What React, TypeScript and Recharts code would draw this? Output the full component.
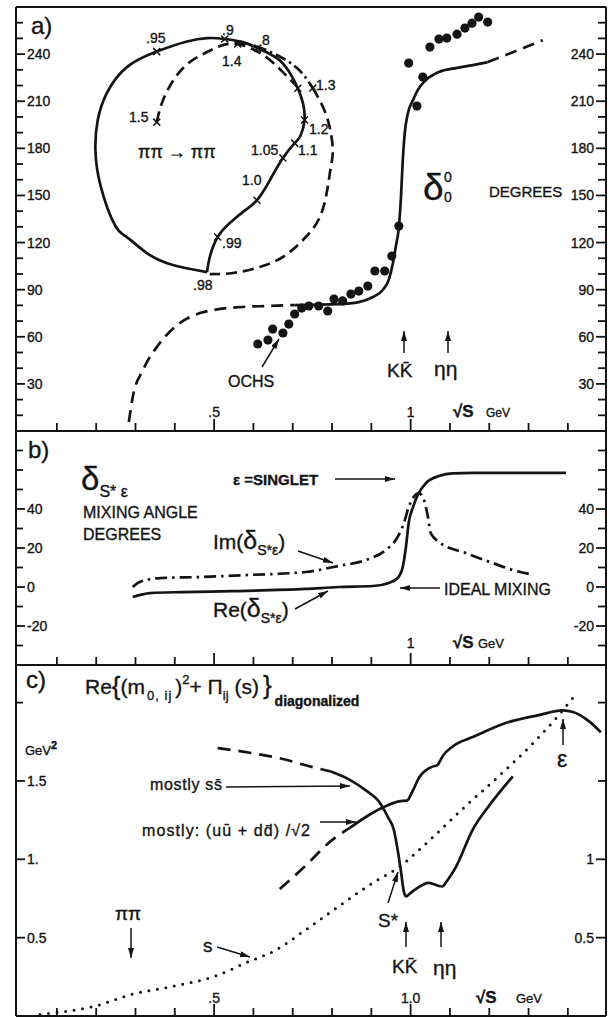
import React from 'react';
import { ComposedChart, Line, XAxis, YAxis } from 'recharts';

const FONT = '"Liberation Sans", Arial, Helvetica, sans-serif';
const INK = '#141414';
const W = 612;

// all three panels share the sqrt(s) axis, in GeV
const xDomain: [number, number] = [-0.004, 1.497];
const sqrtSTicks = [0.1, 0.2, 0.3, 0.4, 0.5, 0.6, 0.7, 0.8, 0.9, 1.0, 1.1, 1.2, 1.3, 1.4];
const longSqrtSTicks = [0.5, 1.0];
const aXLabels: [number, string][] = [[0.5, '.5'], [1.0, '1']];
const bXLabels: [number, string][] = [[1.0, '1']];
const cXLabels: [number, string][] = [[0.5, '.5'], [1.0, '1.0']];

// a) delta_0^0, degrees
const aYTicks = [10, 20, 30, 40, 50, 60, 70, 80, 90, 100, 110, 120, 130, 140, 150, 160, 170, 180, 190, 200, 210, 220, 230, 240, 250, 260];
const aYLabels: [number, string][] = [[30, '30'], [60, '60'], [90, '90'], [120, '120'], [150, '150'], [180, '180'], [210, '210'], [240, '240']];

// Argand loop of the inset, drawn in the panel's own units
const loopSolid = [
  { x: 0.482, y: 101.2 }, { x: 0.395, y: 105.7 }, { x: 0.329, y: 113.3 }, { x: 0.278, y: 123.5 },
  { x: 0.248, y: 130.9 }, { x: 0.212, y: 155.3 }, { x: 0.198, y: 178.9 }, { x: 0.204, y: 198.0 },
  { x: 0.227, y: 215.2 }, { x: 0.278, y: 231.7 }, { x: 0.354, y: 241.6 }, { x: 0.431, y: 248.0 },
  { x: 0.482, y: 250.2 }, { x: 0.522, y: 249.8 }, { x: 0.573, y: 247.6 }, { x: 0.611, y: 243.8 },
  { x: 0.66, y: 237.4 }, { x: 0.693, y: 227.9 }, { x: 0.713, y: 218.3 }, { x: 0.726, y: 208.8 },
  { x: 0.73, y: 198.0 }, { x: 0.72, y: 188.2 }, { x: 0.705, y: 183.3 }, { x: 0.675, y: 173.8 },
  { x: 0.642, y: 159.8 }, { x: 0.609, y: 147.0 }, { x: 0.573, y: 139.4 }, { x: 0.54, y: 132.4 },
  { x: 0.509, y: 123.5 }, { x: 0.489, y: 110.8 }, { x: 0.482, y: 101.2 },
];
const loopInnerDashed = [
  { x: 0.354, y: 196.7 }, { x: 0.37, y: 210.7 }, { x: 0.4, y: 224.7 }, { x: 0.438, y: 234.9 },
  { x: 0.482, y: 241.3 }, { x: 0.522, y: 245.7 }, { x: 0.56, y: 246.4 }, { x: 0.604, y: 242.5 },
  { x: 0.642, y: 236.2 }, { x: 0.675, y: 228.5 }, { x: 0.705, y: 220.9 },
];
const loopDashDot = [
  { x: 0.553, y: 247.6 }, { x: 0.604, y: 245.1 }, { x: 0.655, y: 240.0 }, { x: 0.711, y: 231.1 },
  { x: 0.751, y: 218.4 },
];
const loopOuterDashed = [
  { x: 0.751, y: 218.4 }, { x: 0.777, y: 206.3 }, { x: 0.794, y: 193.5 }, { x: 0.802, y: 178.9 },
  { x: 0.797, y: 168.1 }, { x: 0.789, y: 155.3 }, { x: 0.769, y: 136.2 }, { x: 0.726, y: 121.6 },
  { x: 0.675, y: 110.8 }, { x: 0.616, y: 104.4 }, { x: 0.548, y: 100.6 }, { x: 0.489, y: 99.9 },
];
const loopTicks = [
  { x: 0.354, y: 241.6 }, { x: 0.527, y: 249.6 }, { x: 0.611, y: 243.8 }, { x: 0.56, y: 246.4 },
  { x: 0.751, y: 218.4 }, { x: 0.713, y: 218.3 }, { x: 0.73, y: 198.0 }, { x: 0.705, y: 183.3 },
  { x: 0.675, y: 173.8 }, { x: 0.609, y: 147.0 }, { x: 0.509, y: 123.5 }, { x: 0.354, y: 196.7 },
];

// delta_0^0 against sqrt(s)
const deltaLowDashed = [
  { x: 0.283, y: 5.7 }, { x: 0.293, y: 21.6 }, { x: 0.319, y: 38.8 }, { x: 0.362, y: 56.0 },
  { x: 0.413, y: 68.8 }, { x: 0.464, y: 75.1 }, { x: 0.497, y: 77.0 }, { x: 0.565, y: 78.9 },
  { x: 0.634, y: 79.6 }, { x: 0.705, y: 80.2 },
];
const deltaSolid = [
  { x: 0.705, y: 80.2 }, { x: 0.817, y: 80.8 }, { x: 0.868, y: 82.1 }, { x: 0.904, y: 85.3 },
  { x: 0.929, y: 89.8 }, { x: 0.944, y: 96.1 }, { x: 0.955, y: 107.0 }, { x: 0.962, y: 117.1 },
  { x: 0.97, y: 129.9 }, { x: 0.975, y: 147.1 }, { x: 0.98, y: 172.5 }, { x: 0.985, y: 189.7 },
  { x: 0.993, y: 202.4 }, { x: 1.006, y: 210.7 }, { x: 1.018, y: 217.1 }, { x: 1.039, y: 223.5 },
  { x: 1.072, y: 228.6 }, { x: 1.115, y: 231.1 }, { x: 1.158, y: 233.0 }, { x: 1.196, y: 234.9 },
];
const deltaHighDashed = [
  { x: 1.196, y: 234.9 }, { x: 1.242, y: 239.4 }, { x: 1.293, y: 244.5 }, { x: 1.336, y: 248.9 },
];
const ochsPoints = [
  { x: 0.611, y: 55.4 }, { x: 0.637, y: 57.9 }, { x: 0.649, y: 64.9 }, { x: 0.675, y: 62.4 },
  { x: 0.69, y: 68.1 }, { x: 0.705, y: 74.5 }, { x: 0.723, y: 78.3 }, { x: 0.741, y: 79.6 },
  { x: 0.766, y: 79.6 }, { x: 0.789, y: 76.4 }, { x: 0.805, y: 84.0 }, { x: 0.827, y: 82.8 },
  { x: 0.848, y: 87.2 }, { x: 0.868, y: 89.1 }, { x: 0.891, y: 92.3 }, { x: 0.909, y: 101.9 },
  { x: 0.934, y: 101.9 }, { x: 0.952, y: 111.4 }, { x: 0.97, y: 130.5 }, { x: 0.995, y: 234.3 },
  { x: 1.016, y: 206.9 }, { x: 1.031, y: 225.4 }, { x: 1.049, y: 244.5 }, { x: 1.072, y: 249.6 },
  { x: 1.092, y: 250.2 }, { x: 1.118, y: 252.7 }, { x: 1.138, y: 256.6 }, { x: 1.156, y: 259.7 },
  { x: 1.173, y: 263.6 }, { x: 1.196, y: 260.4 },
];

// b) mixing angle, degrees
const bYTicks = [-30, -20, -10, 0, 10, 20, 30, 40, 50, 60, 70];
const bYLabels: [number, string][] = [[-20, '-20'], [0, '0'], [20, '20'], [40, '40']];
const mixRe = [
  { x: 0.293, y: -5.1 }, { x: 0.337, y: -3.1 }, { x: 0.42, y: -2.6 }, { x: 0.548, y: -2.1 },
  { x: 0.733, y: -1.0 }, { x: 0.817, y: 0 }, { x: 0.904, y: 0.5 }, { x: 0.944, y: 2.1 },
  { x: 0.967, y: 4.6 }, { x: 0.98, y: 10.3 }, { x: 0.988, y: 20.5 }, { x: 0.995, y: 32.8 },
  { x: 1.006, y: 41.0 }, { x: 1.018, y: 47.2 }, { x: 1.039, y: 53.3 }, { x: 1.072, y: 56.9 },
  { x: 1.107, y: 58.3 }, { x: 1.158, y: 58.5 }, { x: 1.395, y: 58.5 },
];
const mixIm = [
  { x: 0.293, y: 0 }, { x: 0.311, y: 2.6 }, { x: 0.362, y: 4.6 }, { x: 0.464, y: 5.1 },
  { x: 0.591, y: 6.2 }, { x: 0.733, y: 7.7 }, { x: 0.817, y: 10.8 }, { x: 0.886, y: 13.8 },
  { x: 0.937, y: 19.0 }, { x: 0.962, y: 24.1 }, { x: 0.983, y: 32.8 }, { x: 0.995, y: 41.0 },
  { x: 1.008, y: 46.2 }, { x: 1.021, y: 48.2 }, { x: 1.034, y: 44.6 }, { x: 1.044, y: 35.9 },
  { x: 1.051, y: 27.7 }, { x: 1.072, y: 23.1 }, { x: 1.14, y: 17.4 }, { x: 1.209, y: 12.3 },
  { x: 1.26, y: 8.7 }, { x: 1.313, y: 6.2 },
];

// c) diagonalized mass matrix, GeV^2
const cYTicks = [0.5, 1.0, 1.5, 2.0];
const cYLeftLabels: [number, string][] = [[0.5, '0.5'], [1.0, '1.'], [1.5, '1.5']];
const cYRightLabels: [number, string][] = [[0.5, '0.5'], [1.0, '1']];
const ssDashed = [
  { x: 0.509, y: 1.71 }, { x: 0.591, y: 1.68 }, { x: 0.675, y: 1.64 }, { x: 0.733, y: 1.6 },
  { x: 0.797, y: 1.56 },
];
const ssSolidFall = [
  { x: 0.797, y: 1.56 }, { x: 0.843, y: 1.51 }, { x: 0.886, y: 1.44 }, { x: 0.919, y: 1.37 },
  { x: 0.942, y: 1.27 }, { x: 0.957, y: 1.19 }, { x: 0.967, y: 1.06 }, { x: 0.975, y: 0.93 },
  { x: 0.983, y: 0.79 }, { x: 0.988, y: 0.76 },
];
const ssSolidDip = [
  { x: 0.988, y: 0.76 }, { x: 1.013, y: 0.81 }, { x: 1.046, y: 0.85 }, { x: 1.072, y: 0.83 },
  { x: 1.082, y: 0.825 },
];
const ssSolidRise = [
  { x: 1.082, y: 0.825 }, { x: 1.115, y: 0.95 }, { x: 1.158, y: 1.19 }, { x: 1.199, y: 1.34 },
  { x: 1.26, y: 1.53 },
];
const uuDashed = [
  { x: 0.667, y: 0.81 }, { x: 0.733, y: 0.96 }, { x: 0.794, y: 1.11 }, { x: 0.845, y: 1.2 },
];
const uuSolidLow = [
  { x: 0.845, y: 1.2 }, { x: 0.886, y: 1.27 }, { x: 0.929, y: 1.33 }, { x: 0.97, y: 1.37 },
  { x: 0.993, y: 1.375 },
];
const uuSolidStep = [
  { x: 0.993, y: 1.375 }, { x: 1.006, y: 1.44 }, { x: 1.021, y: 1.52 }, { x: 1.046, y: 1.58 },
  { x: 1.069, y: 1.6 },
];
const uuSolidHigh = [
  { x: 1.069, y: 1.6 }, { x: 1.082, y: 1.66 }, { x: 1.107, y: 1.72 }, { x: 1.158, y: 1.78 },
  { x: 1.242, y: 1.87 }, { x: 1.326, y: 1.92 }, { x: 1.387, y: 1.95 }, { x: 1.413, y: 1.94 },
  { x: 1.454, y: 1.88 }, { x: 1.484, y: 1.81 },
];
const sDotted = [
  { x: 0.057, y: 0.01 }, { x: 0.125, y: 0.03 }, { x: 0.192, y: 0.06 }, { x: 0.293, y: 0.14 },
  { x: 0.395, y: 0.19 }, { x: 0.497, y: 0.25 }, { x: 0.591, y: 0.35 }, { x: 0.649, y: 0.41 },
  { x: 0.733, y: 0.55 }, { x: 0.817, y: 0.7 }, { x: 0.904, y: 0.85 }, { x: 0.97, y: 0.95 },
  { x: 1.056, y: 1.14 }, { x: 1.14, y: 1.34 }, { x: 1.224, y: 1.53 }, { x: 1.311, y: 1.74 },
  { x: 1.377, y: 1.92 }, { x: 1.413, y: 2.03 },
];

const frameLine = { stroke: INK, strokeWidth: 2 };
const inkText = { fontFamily: FONT, fill: INK, stroke: INK, strokeWidth: 0.35 };

const near = (a: number, b: number) => Math.abs(a - b) < 1e-6;
const labelOf = (labels: [number, string][], v: number) => {
  const hit = labels.find(([k]) => near(k, v));
  return hit ? hit[1] : null;
};

function bottomTick(labels: [number, string][], lift: number) {
  return (p: any) => {
    const v = p.payload.value;
    const len = longSqrtSTicks.some((t) => near(t, v)) ? 12 : 8;
    const txt = labelOf(labels, v);
    return (
      <g>
        <line x1={p.x} x2={p.x} y1={p.y} y2={p.y - len} stroke={INK} strokeWidth={1.8} />
        {txt && (
          <text x={p.x} y={p.y - lift} textAnchor="middle" fontSize={14} {...inkText}>
            {txt}
          </text>
        )}
      </g>
    );
  };
}

function leftTick(labels: [number, string][]) {
  return (p: any) => {
    const txt = labelOf(labels, p.payload.value);
    return (
      <g>
        <line x1={p.x} x2={p.x + (txt ? 9 : 7)} y1={p.y} y2={p.y} stroke={INK} strokeWidth={1.8} />
        {txt && (
          <text x={p.x + 11} y={p.y + 5} fontSize={14} {...inkText}>
            {txt}
          </text>
        )}
      </g>
    );
  };
}

function rightTick(labels: [number, string][]) {
  return (p: any) => {
    const txt = labelOf(labels, p.payload.value);
    return (
      <g>
        <line x1={p.x - (txt ? 10 : 8)} x2={p.x} y1={p.y} y2={p.y} stroke={INK} strokeWidth={1.8} />
        {txt && (
          <text x={p.x - 12} y={p.y + 5} textAnchor="end" fontSize={14} {...inkText}>
            {txt}
          </text>
        )}
      </g>
    );
  };
}

const curve = (dash?: string) => ({
  stroke: INK,
  strokeWidth: 2.7,
  strokeDasharray: dash,
  dot: false as const,
  activeDot: false as const,
  isAnimationActive: false,
  xAxisId: 'b',
  yAxisId: 'l',
  dataKey: 'y',
});

const dotted = {
  ...curve('0 8.6'),
  strokeWidth: 3,
  strokeLinecap: 'round' as const,
};

function Axes({ yDomain, yTicks, leftLabels, rightLabels, xLabels, lift, withTop }: any) {
  return [
    <XAxis key="xb" xAxisId="b" dataKey="x" type="number" orientation="bottom" mirror domain={xDomain}
      allowDataOverflow ticks={sqrtSTicks} interval={0} tickSize={0} tickMargin={0} tickLine={false}
      axisLine={frameLine} tick={bottomTick(xLabels, lift)} />,
    withTop ? (
      <XAxis key="xt" xAxisId="t" type="number" orientation="top" mirror domain={xDomain}
        allowDataOverflow tick={false} tickLine={false} axisLine={frameLine} />
    ) : null,
    <YAxis key="yl" yAxisId="l" type="number" orientation="left" mirror domain={yDomain} allowDataOverflow
      ticks={yTicks} interval={0} tickSize={0} tickMargin={0} tickLine={false} axisLine={frameLine}
      tick={leftTick(leftLabels)} />,
    <YAxis key="yr" yAxisId="r" type="number" orientation="right" mirror domain={yDomain} allowDataOverflow
      ticks={yTicks} interval={0} tickSize={0} tickMargin={0} tickLine={false} axisLine={frameLine}
      tick={rightTick(rightLabels)} />,
  ];
}

function PanelA() {
  return (
    <div style={{ position: 'absolute', left: 0, top: 0 }}>
      <ComposedChart width={W} height={440} margin={{ top: 7, right: 6, bottom: 9, left: 16 }}>
        {Axes({ yDomain: [0, 270], yTicks: aYTicks, leftLabels: aYLabels, rightLabels: aYLabels, xLabels: aXLabels, lift: 14, withTop: true })}
        <Line {...curve()} data={loopSolid} type="natural" />
        <Line {...curve('11 6')} data={loopInnerDashed} type="natural" />
        <Line {...curve('11 4 2.5 4')} data={loopDashDot} type="natural" />
        <Line {...curve('11 6')} data={loopOuterDashed} type="natural" />
        <Line
          {...curve()}
          data={loopTicks}
          stroke="none"
          type="linear"
          dot={(p: any) => (
            <path key={`lt${p.index}`} d={`M${p.cx - 3.5},${p.cy - 3.5}L${p.cx + 3.5},${p.cy + 3.5}M${p.cx - 3.5},${p.cy + 3.5}L${p.cx + 3.5},${p.cy - 3.5}`}
              stroke={INK} strokeWidth={1.5} fill="none" />
          )}
        />
        <Line {...curve('12 7')} data={deltaLowDashed} type="monotoneX" />
        <Line {...curve()} data={deltaSolid} type="monotoneX" />
        <Line {...curve('12 7')} data={deltaHighDashed} type="monotoneX" />
        <Line
          {...curve()}
          data={ochsPoints}
          stroke="none"
          type="linear"
          dot={(p: any) => <circle key={`o${p.index}`} cx={p.cx} cy={p.cy} r={4.6} fill={INK} />}
        />
      </ComposedChart>
    </div>
  );
}

function PanelB() {
  return (
    <div style={{ position: 'absolute', left: 0, top: 420 }}>
      <ComposedChart width={W} height={260} margin={{ top: 11, right: 6, bottom: 15, left: 16 }}>
        {Axes({ yDomain: [-40, 80], yTicks: bYTicks, leftLabels: bYLabels, rightLabels: bYLabels, xLabels: bXLabels, lift: 17 })}
        <Line {...curve('12 5 2.5 5')} data={mixIm} type="monotoneX" />
        <Line {...curve()} data={mixRe} type="monotoneX" />
      </ComposedChart>
    </div>
  );
}

function PanelC() {
  return (
    <div style={{ position: 'absolute', left: 0, top: 655 }}>
      <ComposedChart width={W} height={362} margin={{ top: 10, right: 6, bottom: 1, left: 16 }}>
        {Axes({ yDomain: [0, 2.24], yTicks: cYTicks, leftLabels: cYLeftLabels, rightLabels: cYRightLabels, xLabels: cXLabels, lift: 13 })}
        <Line {...dotted} data={sDotted} type="monotoneX" />
        <Line {...curve('13 8')} data={ssDashed} type="monotoneX" />
        <Line {...curve()} data={ssSolidFall} type="monotoneX" />
        <Line {...curve()} data={ssSolidDip} type="monotoneX" />
        <Line {...curve()} data={ssSolidRise} type="monotoneX" />
        <Line {...curve('13 8')} data={uuDashed} type="monotoneX" />
        <Line {...curve()} data={uuSolidLow} type="monotoneX" />
        <Line {...curve()} data={uuSolidStep} type="monotoneX" />
        <Line {...curve()} data={uuSolidHigh} type="monotoneX" />
      </ComposedChart>
    </div>
  );
}

function T(props: any) {
  return <text {...inkText} {...props} />;
}

function Arrow({ x1, y1, x2, y2 }: { x1: number; y1: number; x2: number; y2: number }) {
  return <line x1={x1} y1={y1} x2={x2} y2={y2} stroke={INK} strokeWidth={1.5} markerEnd="url(#ah)" />;
}

function Annotations() {
  return (
    <svg width={W} height={1017} style={{ position: 'absolute', left: 0, top: 0, pointerEvents: 'none' }}>
      <defs>
        <marker id="ah" viewBox="0 0 10 6" refX="10" refY="3" markerWidth="10" markerHeight="6"
          markerUnits="userSpaceOnUse" orient="auto">
          <path d="M0,0 L10,3 L0,6 z" fill={INK} />
        </marker>
      </defs>

      {/* a) */}
      <T x={31} y={34} fontSize={24}>a)</T>
      <T x={146} y={43} fontSize={14}>.95</T>
      <T x={222} y={35} fontSize={14}>.9</T>
      <T x={262} y={45} fontSize={14}>8</T>
      <T x={222} y={66} fontSize={14}>1.4</T>
      <T x={316} y={90} fontSize={14}>1.3</T>
      <T x={309} y={134} fontSize={14}>1.2</T>
      <T x={298} y={155} fontSize={14}>1.1</T>
      <T x={251} y={155} fontSize={14}>1.05</T>
      <T x={242} y={185} fontSize={14}>1.0</T>
      <T x={222} y={248} fontSize={14}>.99</T>
      <T x={193} y={290} fontSize={14}>.98</T>
      <T x={129} y={122} fontSize={14}>1.5</T>
      <T x={138} y={158} fontSize={18}>ππ → ππ</T>
      <T x={423} y={200} fontSize={37}>δ</T>
      <T x={444} y={182} fontSize={14}>0</T>
      <T x={444} y={202} fontSize={14}>0</T>
      <T x={489} y={197} fontSize={15}>DEGREES</T>
      <T x={228} y={387} fontSize={16}>OCHS</T>
      <Arrow x1={262} y1={367} x2={279} y2={339} />
      <Arrow x1={404} y1={353} x2={404} y2={331} />
      <T x={387} y={377} fontSize={19}>KK̄</T>
      <Arrow x1={448} y1={353} x2={448} y2={331} />
      <T x={434} y={376} fontSize={21}>ηη</T>
      <T x={453} y={417} fontSize={17} fontWeight="bold">√S</T>
      <T x={486} y={417} fontSize={12}>GeV</T>

      {/* b) */}
      <T x={28} y={458} fontSize={24}>b)</T>
      <T x={81} y={490} fontSize={33}>
        δ<tspan fontSize={16} dy={7}>S* ε</tspan>
      </T>
      <T x={83} y={518} fontSize={16}>MIXING ANGLE</T>
      <T x={83} y={540} fontSize={16}>DEGREES</T>
      <T x={233} y={485} fontSize={15} fontWeight="bold">ε =SINGLET</T>
      <Arrow x1={335} y1={479} x2={395} y2={479} />
      <T x={213} y={549} fontSize={21}>
        Im(<tspan fontSize={25}>δ</tspan>
        <tspan fontSize={14} dy={6}>S*ε</tspan>
        <tspan dy={-6}>)</tspan>
      </T>
      <Arrow x1={298} y1={551} x2={333} y2={563} />
      <T x={213} y={617} fontSize={21}>
        Re(<tspan fontSize={25}>δ</tspan>
        <tspan fontSize={14} dy={6}>S*ε</tspan>
        <tspan dy={-6}>)</tspan>
      </T>
      <Arrow x1={295} y1={609} x2={328} y2={591} />
      <T x={444} y={595} fontSize={16}>IDEAL MIXING</T>
      <Arrow x1={440} y1={588} x2={400} y2={588} />
      <T x={453} y={648} fontSize={17} fontWeight="bold">√S</T>
      <T x={478} y={648} fontSize={13}>GeV</T>

      {/* c) */}
      <T x={26} y={688} fontSize={24}>c)</T>
      <T x={85} y={694} fontSize={21}>
        Re<tspan fontSize={26} dy={1}>{'{'}</tspan>
        <tspan dy={-1}>(m</tspan>
        <tspan fontSize={13} dy={6} dx={2} letterSpacing={1}>0, ij</tspan>
        <tspan dy={-6} dx={3}>)</tspan>
        <tspan fontSize={13} dy={-10}>2</tspan>
        <tspan dy={10}>+ Π</tspan>
        <tspan fontSize={13} dy={6}>ij</tspan>
        <tspan dy={-6}> (s)</tspan>
        <tspan fontSize={26} dx={4}>{'}'}</tspan>
        <tspan fontSize={14} fontWeight="bold" dy={12} dx={3}>diagonalized</tspan>
      </T>
      <T x={25} y={755} fontSize={13}>
        GeV<tspan fontSize={11} fontWeight="bold" dy={-6}>2</tspan>
      </T>
      <T x={150} y={790} fontSize={16} textLength={72} lengthAdjust="spacing">mostly  ss̄</T>
      <Arrow x1={226} y1={787} x2={350} y2={786} />
      <T x={142} y={836} fontSize={16} textLength={168} lengthAdjust="spacing">mostly: (uū + dd̄) /√2</T>
      <Arrow x1={320} y1={822} x2={356} y2={822} />
      <T x={557} y={767} fontSize={23}>ε</T>
      <Arrow x1={563} y1={745} x2={563} y2={719} />
      <T x={115} y={920} fontSize={19}>ππ</T>
      <Arrow x1={131} y1={928} x2={131} y2={958} />
      <T x={203} y={952} fontSize={19}>s</T>
      <Arrow x1={217} y1={947} x2={250} y2={957} />
      <T x={378} y={927} fontSize={19}>S*</T>
      <Arrow x1={388} y1={903} x2={398} y2={872} />
      <Arrow x1={406} y1={947} x2={406} y2={922} />
      <T x={392} y={973} fontSize={19}>KK̄</T>
      <Arrow x1={441} y1={947} x2={441} y2={922} />
      <T x={433} y={975} fontSize={21}>ηη</T>
      <T x={476} y={1003} fontSize={17} fontWeight="bold">√S</T>
      <T x={516} y={1003} fontSize={13}>GeV</T>
    </svg>
  );
}

export default function App() {
  return (
    <div style={{ position: 'absolute', left: 0, top: 0, width: W, height: 1017, background: '#fff', overflow: 'hidden' }}>
      <PanelA />
      <PanelB />
      <PanelC />
      <Annotations />
    </div>
  );
}
